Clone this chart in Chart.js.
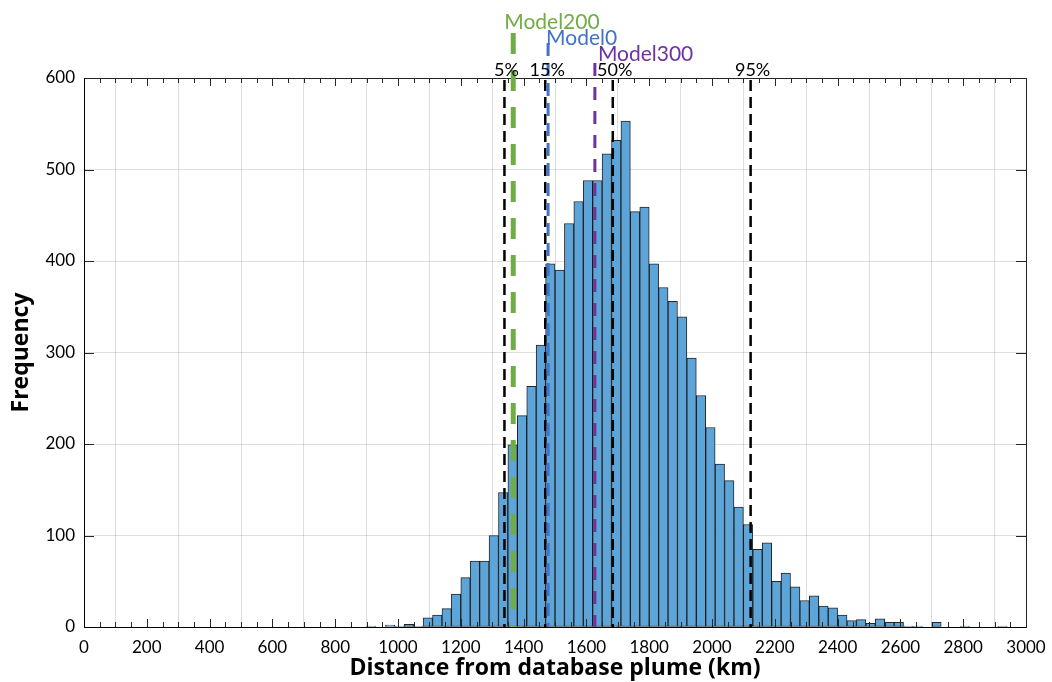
<!DOCTYPE html>
<html><head><meta charset="utf-8">
<script src="https://cdn.jsdelivr.net/npm/chart.js@4/dist/chart.umd.min.js"></script>
<style>html,body{margin:0;padding:0;background:#fff}#wrap{width:1052px;height:682px}</style>
</head><body><div id="wrap"><canvas id="c" width="1052" height="682"></canvas></div>
<script>
// ---- data (histogram bins, 30 km wide, given by their lower edge) ----
const binStarts = [900,930,960,990,1020,1050,1080,1110,1140,1170,1200,1230,1260,1290,1320,1350,1380,1410,1440,1470,1500,1530,1560,1590,1620,1650,1680,1710,1740,1770,1800,1830,1860,1890,1920,1950,1980,2010,2040,2070,2100,2130,2160,2190,2220,2250,2280,2310,2340,2370,2400,2430,2460,2490,2520,2550,2580,2610,2640,2670,2700,2730,2760,2790,2820,2850,2880,2910];
const counts = [1,0,2,1,3,1,10,13,20,36,54,72,72,100,147,199,231,263,308,397,390,441,465,488,488,517,532,553,454,459,397,371,356,339,294,253,218,178,160,131,112,85,92,50,59,44,29,34,23,21,13,7,8,4,9,5,5,1,1,0,5,0,0,1,0,0,0,1];
const binWidth = 30;
// percentile markers
const percentileLabels = ['5%','15%','50%','95%'];
const percentileValues = [1339,1469,1684,2123];
// model markers
const modelNames = ['Model200','Model0','Model300'];
const modelValues = [1367,1478,1627];

const FONT = 'Lato, "Open Sans", sans-serif';
const TITLE_FONT = '"Open Sans", Lato, sans-serif';
const modelStyles = [
  {color:'#70AD47', width:5, dash:[21,16], top:33, textY:22, textDx:-9},
  {color:'#4472C4', width:3, dash:[13,7], top:43, textY:38, textDx:-2},
  {color:'#7030A0', width:3, dash:[13,11], top:63, textY:54, textDx:3}
];

const points = binStarts.map((s,i)=>({x:s+binWidth/2, y:counts[i]}));

const overlay = {
  id:'overlay',
  afterDatasetsDraw(chart){
    const {ctx, chartArea:a, scales:{x,y}} = chart;
    ctx.save();
    // inward ticks
    ctx.strokeStyle='#262626'; ctx.lineWidth=1; ctx.setLineDash([]);
    ctx.beginPath();
    for(let v=0; v<=3000; v+=50){
      const px=Math.round(x.getPixelForValue(v))+0.5;
      const len = v%200===0 ? 8 : 5;
      ctx.moveTo(px,a.bottom); ctx.lineTo(px,a.bottom-len);
      ctx.moveTo(px,a.top); ctx.lineTo(px,a.top+len);
    }
    for(let v=0; v<=600; v+=100){
      const py=Math.round(y.getPixelForValue(v))+0.5;
      ctx.moveTo(a.left,py); ctx.lineTo(a.left+10,py);
      ctx.moveTo(a.right,py); ctx.lineTo(a.right-10,py);
    }
    ctx.stroke();
    // frame
    ctx.strokeStyle='#262626';
    ctx.strokeRect(Math.round(a.left)+0.5, Math.round(a.top)+0.5, Math.round(a.right-a.left), Math.round(a.bottom-a.top));
    ctx.strokeStyle='#000';
    ctx.beginPath();
    ctx.moveTo(Math.round(a.left)+0.5,a.top); ctx.lineTo(Math.round(a.left)+0.5,a.bottom+0.5);
    ctx.lineTo(a.right,Math.round(a.bottom)+0.5);
    ctx.stroke();
    // percentile lines
    ctx.strokeStyle='#000'; ctx.lineWidth=2.5; ctx.setLineDash([11,6]);
    percentileValues.forEach(v=>{
      const px=x.getPixelForValue(v);
      ctx.beginPath(); ctx.moveTo(px,a.top+2); ctx.lineTo(px,a.bottom); ctx.stroke();
    });
    // model lines
    modelValues.forEach((v,i)=>{
      const st=modelStyles[i]; const px=x.getPixelForValue(v);
      ctx.strokeStyle=st.color; ctx.lineWidth=st.width; ctx.setLineDash(st.dash);
      ctx.beginPath(); ctx.moveTo(px,st.top); ctx.lineTo(px,a.bottom); ctx.stroke();
    });
    ctx.setLineDash([]);
    // labels
    ctx.textBaseline='middle';
    ctx.font='18px '+FONT; ctx.fillStyle='#000'; ctx.textAlign='center';
    percentileValues.forEach((v,i)=>{
      ctx.fillText(percentileLabels[i], x.getPixelForValue(v)+2, 70);
    });
    ctx.font='21px '+FONT; ctx.textAlign='left';
    modelValues.forEach((v,i)=>{
      const st=modelStyles[i];
      ctx.fillStyle=st.color;
      ctx.fillText(modelNames[i], x.getPixelForValue(v)+st.textDx, st.textY);
    });
    ctx.restore();
  }
};

Chart.defaults.font.family = FONT;
Chart.defaults.color = '#000';
new Chart(document.getElementById('c'), {
  type:'bar',
  data:{datasets:[{
    data: points,
    backgroundColor:'#5DA5D9',
    borderColor:'rgba(0,0,0,0.85)',
    borderWidth:1,
    borderSkipped:false,
    barPercentage:1,
    categoryPercentage:1
  }]},
  options:{
    responsive:false, animation:false, devicePixelRatio:1,
    layout:{padding:{top:78,right:26,left:0,bottom:0}},
    plugins:{legend:{display:false}, tooltip:{enabled:false}},
    scales:{
      x:{type:'linear', min:0, max:3000, offset:false,
         ticks:{stepSize:200, autoSkip:false, maxRotation:0, font:{size:17, lineHeight:2}, padding:4, color:'#000',
                callback:(v)=>String(v)},
         grid:{color:'rgba(0,0,0,0.13)', drawTicks:false, tickLength:0},
         border:{display:false},
         title:{display:true, text:'Distance from database plume (km)', font:{family:TITLE_FONT, size:23, weight:'bold'}, padding:{top:0,bottom:0}, color:'#000'},
         afterFit:(s)=>{s.height=55;}
      },
      y:{min:0, max:600,
         ticks:{stepSize:100, font:{size:17}, padding:9, color:'#000'},
         grid:{color:'rgba(0,0,0,0.13)', drawTicks:false, tickLength:0},
         border:{display:false},
         title:{display:true, text:'Frequency', font:{family:TITLE_FONT, size:23, weight:'bold'}, padding:{top:8,bottom:0}, color:'#000'},
         afterFit:(s)=>{s.width=84;}
      }
    }
  },
  plugins:[overlay]
});
</script></body></html>
